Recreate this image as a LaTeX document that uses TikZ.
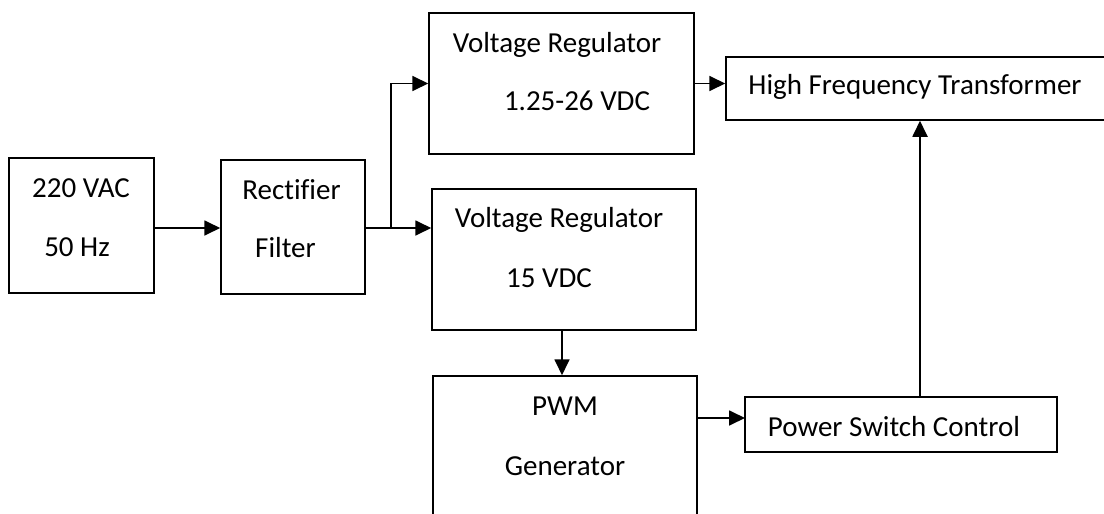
\documentclass[tikz,border=0pt]{standalone}
\usepackage{fontspec}
\setmainfont{Carlito}[Ligatures=NoCommon]
\usetikzlibrary{arrows.meta,positioning,calc}

\begin{document}
\begin{tikzpicture}[x=1pt, y=-1pt,
    blk/.style={draw, line width=1.5pt, inner sep=0pt, minimum width=#1},
    blk/.default=1cm,
    txt/.style={anchor=base, inner sep=0pt, font=\fontsize{29}{35}\selectfont},
    arr/.style={-{Triangle[length=16pt,width=15pt]}, line width=1.8pt}
]
\clip (0,0) rectangle (1104,514);

% blocks
\node[blk=145pt, minimum height=135pt] (src) at (81.5,225.5) {};
\node[blk=144pt, minimum height=134pt] (rect) at (293,227) {};
\node[blk=265pt, minimum height=141pt] (vr1) at (561.5,83.5) {};
\node[blk=264pt, minimum height=141pt] (vr2) at (564,259.5) {};
\node[blk=264pt, minimum height=170pt] (pwm) at (565,461) {};
\node[blk=400pt, minimum height=63pt] (hft) at (926,88.5) {};
\node[blk=312pt, minimum height=55pt] (psc) at (901,424.5) {};

% texts
\node[txt] (src1) at (81,197) {220 VAC};
\node[txt] (src2) at (77,256) {50 Hz};
\node[txt] (rect1) at (291.5,199) {Rectifier};
\node[txt] (rect2) at (285.5,257) {Filter};
\node[txt] (vr11) at (557,52) {Voltage Regulator};
\node[txt] (vr12) at (577,110) {1.25-26 VDC};
\node[txt] (vr21) at (559,227) {Voltage Regulator};
\node[txt] (vr22) at (549,287) {15 VDC};
\node[txt] (pwm1) at (565,415) {PWM};
\node[txt] (pwm2) at (565,475) {Generator};
\node[txt] (hft1) at (915,94) {High Frequency Transformer};
\node[txt] (psc1) at (894,436) {Power Switch Control};

% connectors
\coordinate (j) at (391,228);
\coordinate (pin) at (745,418);
\coordinate (up) at (920,397);
\draw[arr] (src.east |- j) -- (rect.west |- j);
\draw[arr] (rect.east |- j) -- (vr2.west |- j);
\draw[arr] (j) |- (vr1.west);
\draw[arr] (vr1.east) -- (vr1.east -| hft.west);
\draw[arr] (vr2.south -| 562,0) -- (pwm.north -| 562,0);
\draw[arr] (pwm.east |- pin) -- (pin);
\draw[arr] (up) -- (up |- hft.south);
\end{tikzpicture}
\end{document}
